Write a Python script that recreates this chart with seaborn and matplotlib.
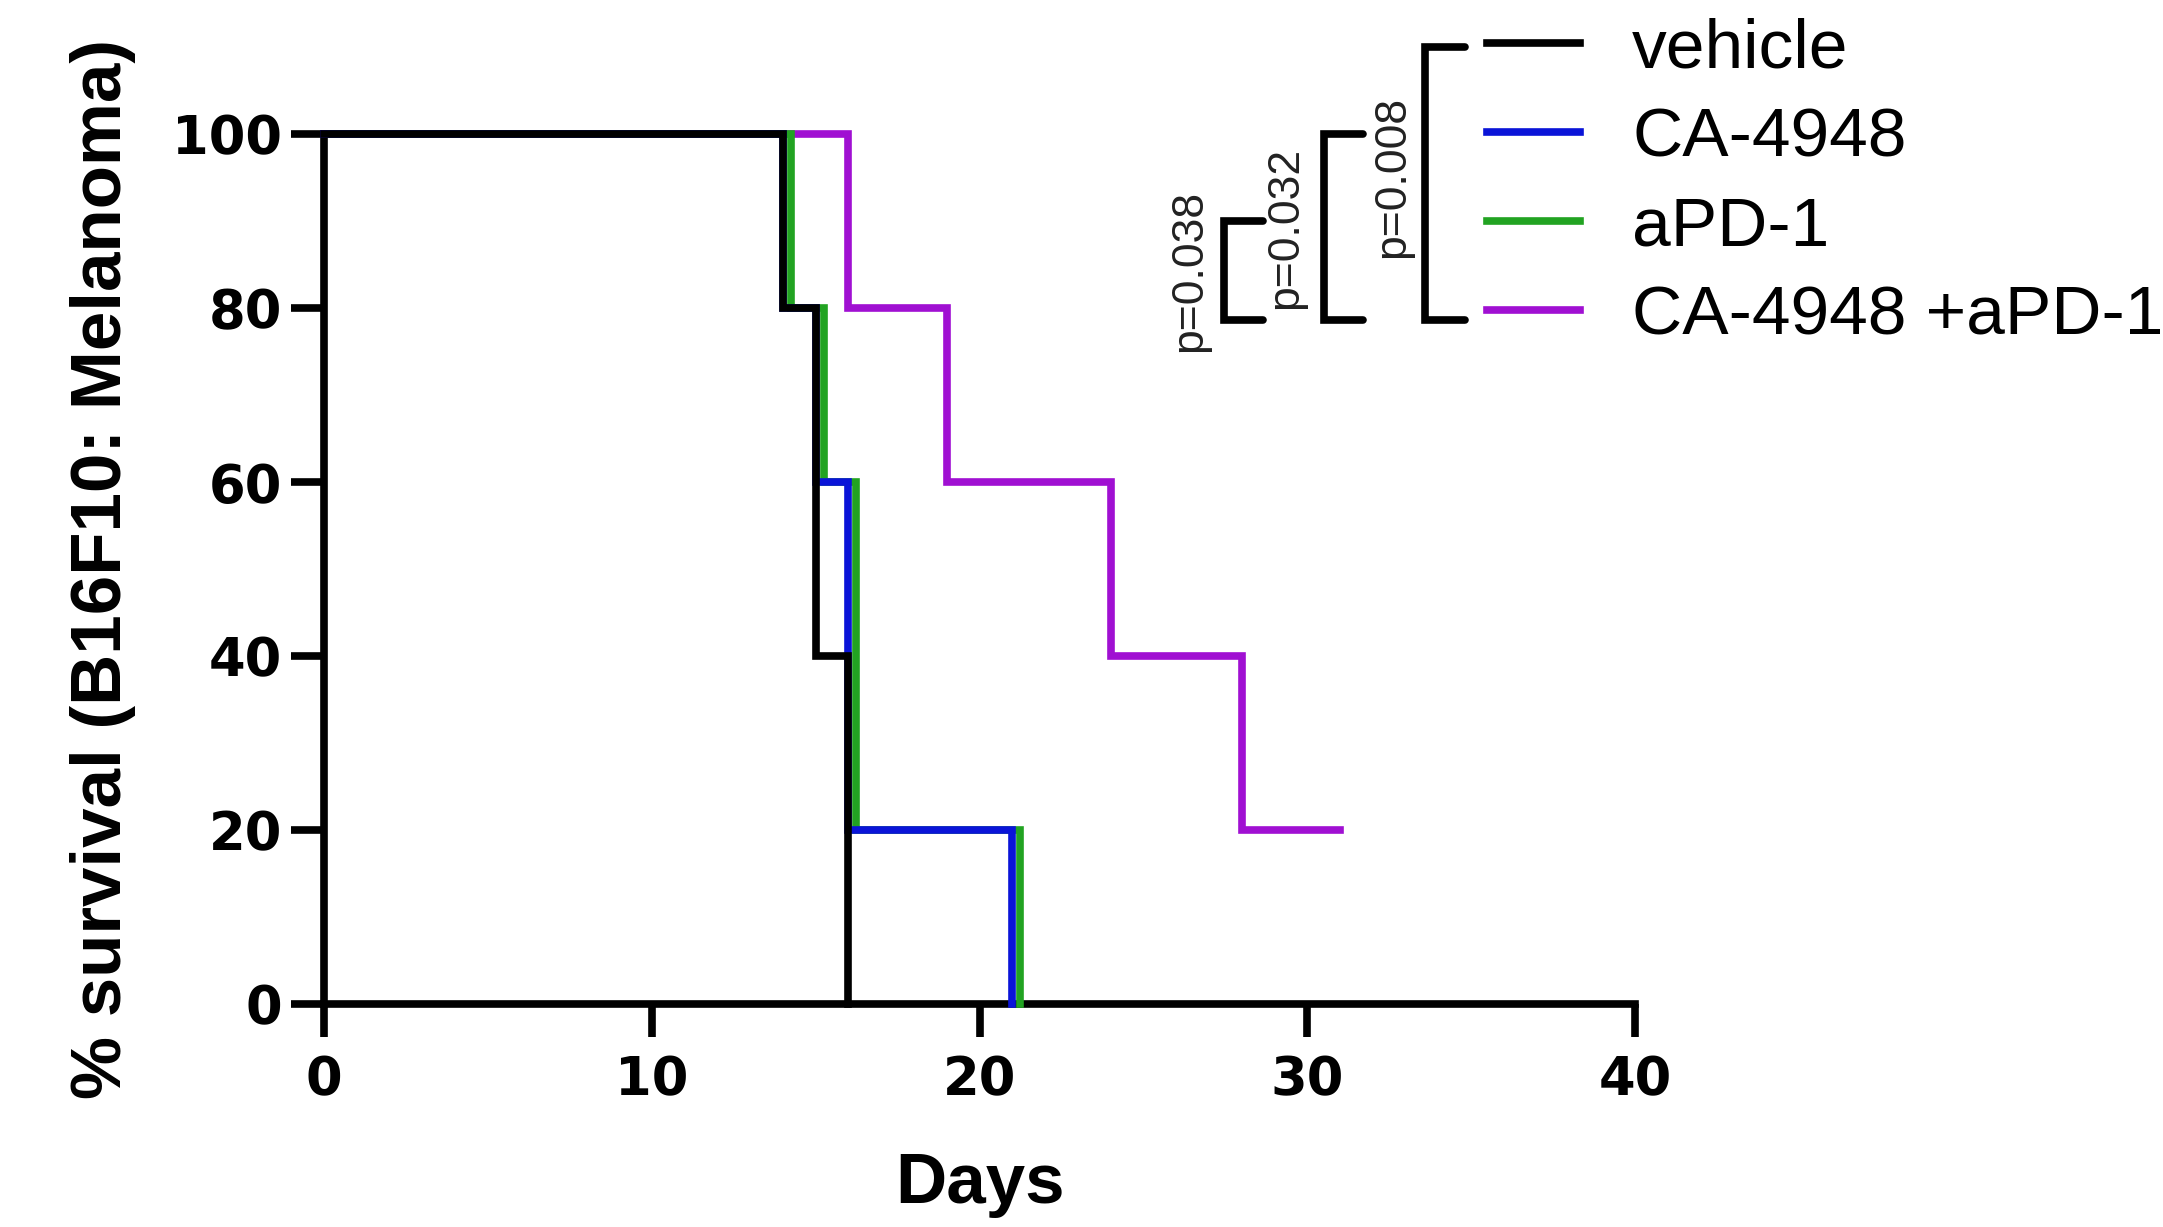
import matplotlib
matplotlib.use("Agg")
import matplotlib.pyplot as plt
import matplotlib.transforms as mtransforms
import seaborn as sns
import pandas as pd

# survival curves (Kaplan-Meier steps)
groups = ["vehicle", "CA-4948", "aPD-1", "CA-4948 +aPD-1"]
vehicle_days = [0, 14, 15, 16]
vehicle_surv = [100, 80, 40, 0]
ca_days = [0, 14, 15, 16, 21]
ca_surv = [100, 80, 60, 20, 0]
apd_days = [0, 14, 15, 16, 21]
apd_surv = [100, 80, 60, 20, 0]
combo_days = [0, 16, 19, 24, 28, 31]
combo_surv = [100, 80, 60, 40, 20, 20]

colors = {"vehicle": "#000000", "CA-4948": "#0a14d8",
          "aPD-1": "#22a322", "CA-4948 +aPD-1": "#a010d2"}

# log-rank comparisons vs combo: (p text, top level, bracket x, text x, text y)
p_labels = ["p=0.038", "p=0.032", "p=0.008"]
p_top = [90, 100, 110]
p_bottom = 78.6
p_bracket_x = [27.45, 30.5, 33.6]
p_text_x = [26.4, 29.35, 32.6]
p_text_y = [84.2, 89.2, 95.1]

x_ticks = [0, 10, 20, 30, 40]
y_ticks = [0, 20, 40, 60, 80, 100]

frames = []
for g, d, s in [("vehicle", vehicle_days, vehicle_surv),
                ("CA-4948", ca_days, ca_surv),
                ("aPD-1", apd_days, apd_surv),
                ("CA-4948 +aPD-1", combo_days, combo_surv)]:
    frames.append(pd.DataFrame({"group": g, "day": d, "surv": s}))
df = pd.concat(frames, ignore_index=True)

sns.set_style("ticks")
plt.rcParams["font.family"] = ["Liberation Sans", "DejaVu Sans"]
for k in ["text.color", "axes.labelcolor", "xtick.color", "ytick.color", "axes.edgecolor"]:
    plt.rcParams[k] = "black"

LW = 5.5

fig = plt.figure(figsize=(21.63, 12.27), dpi=100)
ax = fig.add_axes([0.1498, 0.1817, 0.6061, 0.7091])

# draw bottom -> top: combo, aPD-1, CA-4948, vehicle
handles = {}
for z, g in enumerate(["CA-4948 +aPD-1", "aPD-1", "CA-4948", "vehicle"]):
    sub = df[df.group == g]
    sns.lineplot(data=sub, x="day", y="surv", color=colors[g], ax=ax,
                 estimator=None, sort=False, drawstyle="steps-post",
                 zorder=3 + z, legend=False)
    line = ax.lines[-1]
    line.set_linewidth(LW)
    line.set_clip_on(False)
    line.set_solid_capstyle("projecting")
    line.set_solid_joinstyle("miter")
    if g == "aPD-1":
        # Prism-style nudge so overlapping curves stay visible
        line.set_transform(mtransforms.offset_copy(ax.transData, fig=fig, x=8, y=0, units="dots"))
    handles[g] = line

ax.set_xlim(0, 40)
ax.set_ylim(0, 100)
ax.set_xticks(x_ticks)
ax.set_yticks(y_ticks)
sns.despine(ax=ax)
for sp in ["left", "bottom"]:
    ax.spines[sp].set_linewidth(LW)
    ax.spines[sp].set_capstyle("projecting")
ax.tick_params(axis="both", width=LW, length=24, direction="out", color="black")
ax.tick_params(axis="x", pad=12)
ax.tick_params(axis="y", pad=6)
for lab in ax.get_xticklabels() + ax.get_yticklabels():
    lab.set_fontfamily("DejaVu Sans")
    lab.set_fontweight("bold")
    lab.set_fontsize(38)

ax.set_xlabel("Days", family="Liberation Sans", fontweight="bold", fontsize=51, labelpad=33)
ax.set_ylabel("% survival (B16F10: Melanoma)", family="Liberation Sans", fontweight="bold",
              fontsize=51, labelpad=26)

# legend
leg = ax.legend([handles[g] for g in groups], groups, loc="upper left",
                bbox_to_anchor=(1487 / 2163, 0.986), bbox_transform=fig.transFigure,
                frameon=False, fontsize=50, handlelength=1.34, handletextpad=0.75,
                labelspacing=0.36, borderpad=0, borderaxespad=0)
for lh in leg.get_lines():
    lh.set_linewidth(LW)

# significance brackets
for lab, top, bx, tx, ty in zip(p_labels, p_top, p_bracket_x, p_text_x, p_text_y):
    ax.plot([bx + 1.2, bx, bx, bx + 1.2], [top, top, p_bottom, p_bottom],
            color="black", lw=LW, clip_on=False, solid_joinstyle="miter")
    ax.text(tx, ty, lab, rotation=90, ha="center", va="center", fontsize=32,
            color="#222222")

fig.savefig("out.png", dpi=100)
